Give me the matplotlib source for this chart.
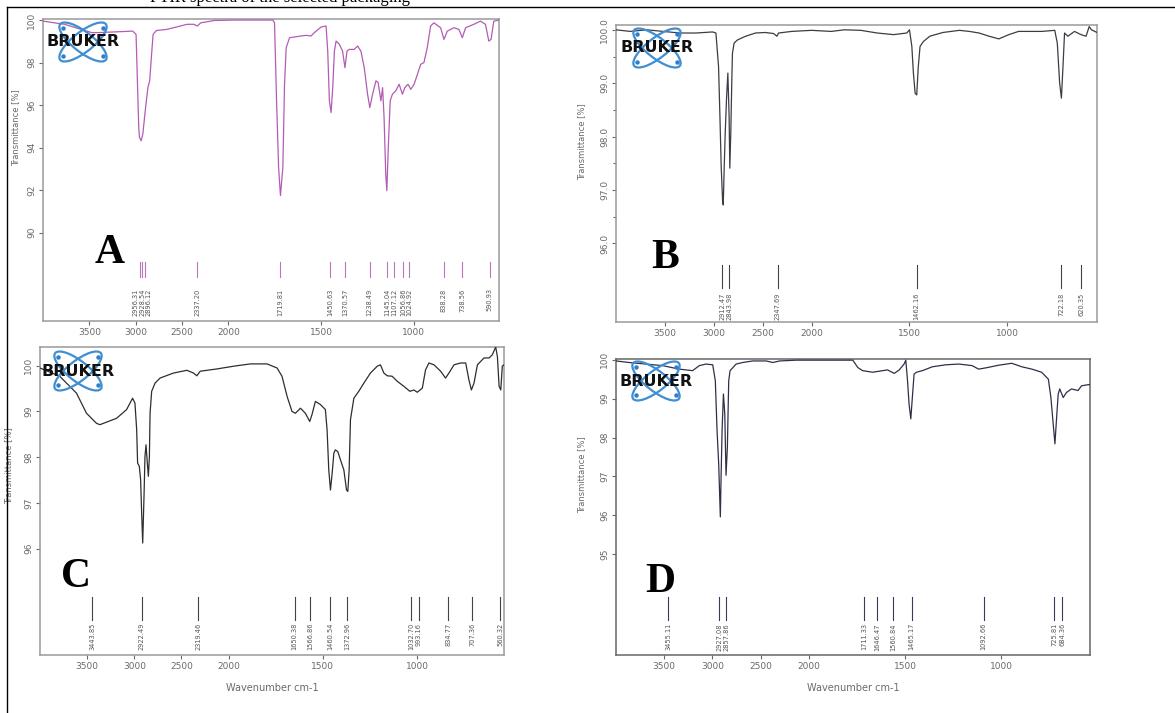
import numpy as np
import matplotlib
matplotlib.use("Agg")
import matplotlib.pyplot as plt
import matplotlib.transforms as mtransforms
from matplotlib.patches import Ellipse
from matplotlib.lines import Line2D

W, H = 1175, 713

# ---------------- data ----------------
x_ticks = [3500, 3000, 2500, 2000, 1500, 1000]
x_tick_labels = ["3500", "3000", "2500", "2000", "1500", "1000"]

# Panel A
a_wn = [4000, 3768, 3474, 3400, 3033, 2996, 2967, 2959, 2941, 2923, 2897, 2868, 2849, 2831, 2812,
        2776, 2665, 2445, 2371, 2335, 2298, 2151, 1966, 1760, 1751, 1740, 1729, 1719, 1706, 1697,
        1688, 1670, 1608, 1581, 1554, 1536, 1500, 1473, 1464, 1455, 1446, 1437, 1428, 1419, 1401,
        1384, 1371, 1360, 1348, 1321, 1303, 1285, 1267, 1249, 1237, 1222, 1204, 1192, 1177, 1168,
        1160, 1151, 1145, 1138, 1127, 1115, 1097, 1079, 1061, 1048, 1031, 1016, 998, 980, 962,
        945, 927, 909, 891, 855, 837, 819, 783, 756, 738, 720, 676, 640, 613, 595, 583, 568, 540]
a_tr = [99.95, 99.80, 99.41, 99.41, 99.48, 99.33, 94.95, 94.48, 94.32, 94.63, 95.73, 96.82, 97.14, 98.23, 99.33,
        99.51, 99.56, 99.80, 99.80, 99.72, 99.87, 99.98, 100.0, 100.0, 99.87, 96.20, 93.07, 91.74, 93.07, 96.98,
        98.70, 99.17, 99.25, 99.28, 99.25, 99.41, 99.67, 99.72, 98.54, 96.20, 95.65, 96.82, 98.54, 99.01, 98.86,
        98.54, 97.76, 98.54, 98.62, 98.62, 98.78, 98.54, 97.76, 96.51, 95.88, 96.51, 97.14, 97.06, 96.20, 96.82,
        95.41, 92.75, 91.97, 93.85, 96.20, 96.51, 96.67, 96.98, 96.51, 96.82, 96.98, 96.74, 96.98, 97.45, 97.92,
        98.00, 98.70, 99.72, 99.87, 99.64, 99.09, 99.48, 99.64, 99.56, 99.17, 99.64, 99.80, 99.95, 99.80, 99.01,
        99.09, 99.95, 100.0]
a_peaks = [2956.31, 2928.54, 2896.12, 2337.20, 1719.81, 1450.63, 1370.57, 1238.49, 1145.04,
           1107.12, 1056.86, 1024.92, 838.28, 738.56, 590.93]
a_yticks = [100, 98, 96, 94, 92, 90]

# Panel B
b_wn = [4000, 3854, 3686, 3517, 3348, 3180, 3011, 2978, 2951, 2937, 2924, 2910, 2903, 2893, 2883,
        2870, 2856, 2843, 2836, 2826, 2816, 2809, 2792, 2758, 2674, 2573, 2472, 2388, 2354, 2337,
        2202, 2000, 1899, 1832, 1748, 1664, 1580, 1513, 1499, 1487, 1479, 1470, 1462, 1454, 1445,
        1428, 1395, 1328, 1244, 1193, 1143, 1092, 1042, 991, 941, 823, 756, 743, 731, 722, 714,
        706, 689, 655, 622, 596, 580, 568, 540]
b_tr = [100.0, 99.97, 100.0, 99.97, 99.94, 99.94, 99.96, 99.94, 99.31, 98.38, 97.44, 96.81, 96.72, 97.44, 98.06,
        98.69, 99.19, 98.38, 97.41, 98.06, 99.00, 99.56, 99.75, 99.81, 99.88, 99.94, 99.95, 99.93, 99.88, 99.94,
        99.97, 99.99, 99.97, 100.0, 99.99, 99.94, 99.91, 99.94, 100.0, 99.69, 99.19, 98.81, 98.78, 99.31, 99.69,
        99.78, 99.88, 99.95, 99.99, 99.97, 99.94, 99.88, 99.83, 99.91, 99.97, 99.97, 99.99, 99.75, 99.00, 98.72, 99.31,
        99.94, 99.88, 99.97, 99.91, 99.88, 100.06, 100.0, 99.95]
b_peaks = [2912.47, 2843.98, 2347.69, 1462.16, 722.18, 620.35]
b_yticks = [100.0, 99.0, 98.0, 97.0, 96.0]
b_yminor = [99.5, 98.5, 97.5, 96.5]

# Panel C
c_wn = [4000, 3791, 3613, 3507, 3401, 3365, 3188, 3082, 3018, 2993, 2975, 2965, 2947, 2933, 2922,
        2911, 2897, 2887, 2876, 2862, 2851, 2840, 2833, 2816, 2780, 2727, 2585, 2443, 2372, 2337,
        2301, 2124, 1973, 1885, 1796, 1743, 1717, 1690, 1664, 1646, 1619, 1593, 1570, 1558, 1540,
        1513, 1487, 1478, 1469, 1460, 1451, 1442, 1434, 1421, 1407, 1389, 1375, 1368, 1361, 1354,
        1336, 1310, 1283, 1248, 1212, 1195, 1177, 1159, 1133, 1106, 1071, 1039, 1018, 1000, 973,
        956, 938, 911, 876, 850, 832, 805, 770, 743, 726, 713, 699, 681, 646, 619, 602, 584, 575,
        566, 557, 549, 540]
c_tr = [99.95, 99.77, 99.40, 98.96, 98.74, 98.71, 98.85, 99.04, 99.29, 99.18, 98.60, 97.87, 97.80, 97.50, 96.77,
        96.12, 97.15, 98.01, 98.27, 97.87, 97.58, 98.01, 98.96, 99.44, 99.62, 99.73, 99.84, 99.90, 99.84, 99.78,
        99.88, 99.93, 99.99, 100.04, 100.04, 99.95, 99.77, 99.33, 99.00, 98.96, 99.07, 98.96, 98.78, 98.93, 99.22,
        99.15, 99.04, 98.60, 97.72, 97.28, 97.65, 98.09, 98.16, 98.12, 97.94, 97.72, 97.28, 97.25, 97.72, 98.82,
        99.29, 99.44, 99.62, 99.84, 99.99, 100.02, 99.84, 99.78, 99.77, 99.66, 99.55, 99.44, 99.47, 99.42, 99.51,
        99.91, 100.06, 100.02, 99.88, 99.73, 99.84, 100.02, 100.06, 100.06, 99.69, 99.47, 99.62, 100.02, 100.17, 100.17,
        100.24, 100.41, 100.20, 99.55, 99.47, 99.99, 100.02]
c_peaks = [3443.85, 2922.49, 2319.46, 1650.38, 1566.86, 1460.54, 1372.96, 1032.70, 993.16,
           834.77, 707.36, 560.32]
c_yticks = [100, 99, 98, 97, 96]

# Panel D
d_wn = [4000, 3864, 3691, 3517, 3344, 3205, 3135, 3066, 2996, 2969, 2951, 2934, 2917, 2910, 2899,
        2885, 2871, 2858, 2844, 2830, 2816, 2753, 2684, 2580, 2441, 2372, 2302, 2128, 1978, 1771,
        1745, 1720, 1668, 1616, 1591, 1556, 1530, 1505, 1496, 1487, 1479, 1470, 1462, 1453, 1441,
        1410, 1358, 1290, 1221, 1152, 1118, 1083, 1014, 946, 894, 842, 791, 756, 743, 731, 722,
        712, 705, 697, 679, 662, 636, 602, 584, 550, 540]
d_tr = [99.97, 99.93, 99.89, 99.85, 99.76, 99.72, 99.85, 99.89, 99.87, 99.46, 98.18, 97.32, 95.96, 96.90, 98.18,
        99.12, 98.61, 97.03, 97.75, 99.46, 99.72, 99.89, 99.93, 99.97, 99.97, 99.93, 99.97, 99.99, 99.99, 99.99,
        99.80, 99.72, 99.68, 99.72, 99.74, 99.65, 99.74, 99.89, 99.99, 99.46, 98.86, 98.48, 99.03, 99.63, 99.68,
        99.72, 99.82, 99.87, 99.89, 99.85, 99.76, 99.79, 99.86, 99.91, 99.82, 99.76, 99.68, 99.50, 99.03, 98.35, 97.84,
        98.61, 99.12, 99.25, 99.03, 99.16, 99.25, 99.21, 99.33, 99.36, 99.36]
d_peaks = [3455.11, 2927.08, 2857.86, 1711.33, 1646.47, 1560.84, 1465.17, 1092.66, 725.81, 684.36]
d_yticks = [100, 99, 98, 97, 96, 95]

# ---------------- helpers ----------------
def fwd(w):
    w = np.asarray(w, dtype=float)
    return np.where(w > 2000, 2000 + (w - 2000) / 2.0, w)

def inv(x):
    x = np.asarray(x, dtype=float)
    return np.where(x > 2000, 2000 + (x - 2000) * 2.0, x)

fig = plt.figure(figsize=(W / 100, H / 100), dpi=100)
fig.patch.set_facecolor("white")

def px_axes(l, t, r, b):
    return fig.add_axes([l / W, 1 - b / H, (r - l) / W, (b - t) / H])

TICK_C = "#6a6a6a"
LABEL_GAP_PX = 6.5

def draw_panel(rect, wn, tr, color, ylim, yticks, ylabels, peaks, peak_color,
               mark_y, ylabel_pos, xlabel=None, yminor=None, spine_c="#9a9a9a"):
    ax = px_axes(*rect)
    ax.set_xscale("function", functions=(fwd, inv))
    ax.plot(wn, tr, color=color, lw=0.9, zorder=3)
    ax.set_xlim(4000, 540)
    ax.set_ylim(*ylim)
    ax.set_xticks(x_ticks)
    ax.set_xticklabels(x_tick_labels)
    ax.xaxis.set_minor_locator(matplotlib.ticker.NullLocator())
    ax.set_yticks(yticks)
    ax.set_yticklabels(ylabels, rotation=90, va="center")
    if yminor is not None:
        ax.set_yticks(yminor, minor=True)
    else:
        ax.yaxis.set_minor_locator(matplotlib.ticker.NullLocator())
    ax.tick_params(axis="both", which="both", direction="out", length=3, width=0.8,
                   colors=TICK_C, labelsize=6.5, pad=2)
    ax.tick_params(axis="y", which="minor", length=2)
    for s in ax.spines.values():
        s.set_color(spine_c)
        s.set_linewidth(1.1)
    ax.set_ylabel("Transmittance [%]", fontsize=6, color=TICK_C)
    ax.yaxis.set_label_coords(*ylabel_pos)
    if xlabel:
        ax.set_xlabel(xlabel, fontsize=7, color=TICK_C, labelpad=9)
    trans = ax.get_xaxis_transform()
    y_top, y_bot, y_txt = mark_y
    # pixel x of each peak marker, then spread crowded labels apart
    fig.canvas.draw_idle()
    xs_px = [ax.transData.transform((p, 0))[0] for p in peaks]
    order = np.argsort(xs_px)
    placed = {}
    last = None
    for i in order:
        x = xs_px[i]
        if last is not None and x - last < LABEL_GAP_PX:
            x = last + LABEL_GAP_PX
        placed[i] = x
        last = x
    # re-center clusters so shifts are symmetric
    for i, p in enumerate(peaks):
        ax.plot([p, p], [y_top, y_bot], transform=trans, color=peak_color, lw=0.8, zorder=2)
    groups = []
    cur = [order[0]]
    for i in order[1:]:
        if placed[i] - placed[cur[-1]] <= LABEL_GAP_PX + 1e-6 and placed[i] != xs_px[i] or \
           (placed[i] - placed[cur[-1]] <= LABEL_GAP_PX + 1e-6):
            cur.append(i)
        else:
            groups.append(cur)
            cur = [i]
    groups.append(cur)
    for g in groups:
        shift = np.mean([placed[i] - xs_px[i] for i in g])
        for i in g:
            dx_px = placed[i] - xs_px[i] - shift
            t = mtransforms.offset_copy(trans, fig=fig, x=dx_px * 72 / fig.dpi, y=0, units="points")
            ax.text(peaks[i], y_txt, f"{peaks[i]:.2f}", transform=t, rotation=90, ha="center",
                    va="top", fontsize=4.8, color="#555555")
    return ax

draw_panel((43, 19, 499, 321), a_wn, a_tr, "#b35cb3", (85.84, 100.05), a_yticks,
           [str(v) for v in a_yticks], a_peaks, "#b878b8", (0.195, 0.146, 0.108), (-0.05, 0.64))
draw_panel((616, 25, 1097, 322), b_wn, b_tr, "#3c3c44", (94.53, 100.09), b_yticks,
           [f"{v:.1f}" for v in b_yticks], b_peaks, "#444444", (0.192, 0.114, 0.100), (-0.062, 0.606),
           yminor=b_yminor)
draw_panel((40, 347, 504, 655), c_wn, c_tr, "#2e2e2e", (93.67, 100.41), c_yticks,
           [str(v) for v in c_yticks], c_peaks, "#444444", (0.188, 0.114, 0.104), (-0.058, 0.614),
           xlabel="Wavenumber cm-1")
draw_panel((616, 359, 1090, 655), d_wn, d_tr, "#2f3048", (92.41, 100.02), d_yticks,
           [str(v) for v in d_yticks], d_peaks, "#3a3a5a", (0.196, 0.118, 0.108), (-0.063, 0.608),
           xlabel="Wavenumber cm-1", spine_c="#666666")

# ---------------- Bruker logos ----------------
def draw_logo(cx, cy):
    lw_, lh_ = 90, 50
    lax = fig.add_axes([(cx - lw_ / 2) / W, 1 - (cy + lh_ / 2) / H, lw_ / W, lh_ / H])
    lax.set_xlim(-lw_ / 2, lw_ / 2)
    lax.set_ylim(-lh_ / 2, lh_ / 2)
    lax.axis("off")
    lax.patch.set_alpha(0)
    for ang in (38, -38):
        lax.add_patch(Ellipse((0, 0), 58, 20, angle=ang, fill=False, edgecolor="#3f8fd2", lw=1.6))
    for (dx, dy) in [(-20, 14), (20, -14), (-20, -14), (20, 14)]:
        lax.plot([dx], [dy], "o", ms=2.2, color="#2f7fc8")
    lax.text(0, 0, "BRUKER", ha="center", va="center", fontsize=11.5, fontweight="heavy",
             family="DejaVu Sans", color="#111111")

draw_logo(83, 42)
draw_logo(657, 48)
draw_logo(78, 371)
draw_logo(656, 381)

# ---------------- panel letters ----------------
for letter, x, y in [("A", 110, 263), ("B", 665, 268), ("C", 76, 587), ("D", 660, 592)]:
    fig.text(x / W, 1 - y / H, letter, ha="center", va="baseline", fontsize=30,
             fontweight="bold", family="Liberation Serif", color="black")

# ---------------- page frame and cut-off caption ----------------
fig.add_artist(Line2D([7 / W, 1.0], [1 - 7 / H, 1 - 7 / H], color="black", lw=1.0))
fig.add_artist(Line2D([7 / W, 7 / W], [0, 1 - 7 / H], color="black", lw=1.0))
fig.text(150 / W, 1 - 2 / H, "FTIR spectra of the selected packaging", ha="left", va="baseline",
         fontsize=12, family="Liberation Serif", color="black")

fig.savefig("out.png", dpi=100, facecolor="white")
